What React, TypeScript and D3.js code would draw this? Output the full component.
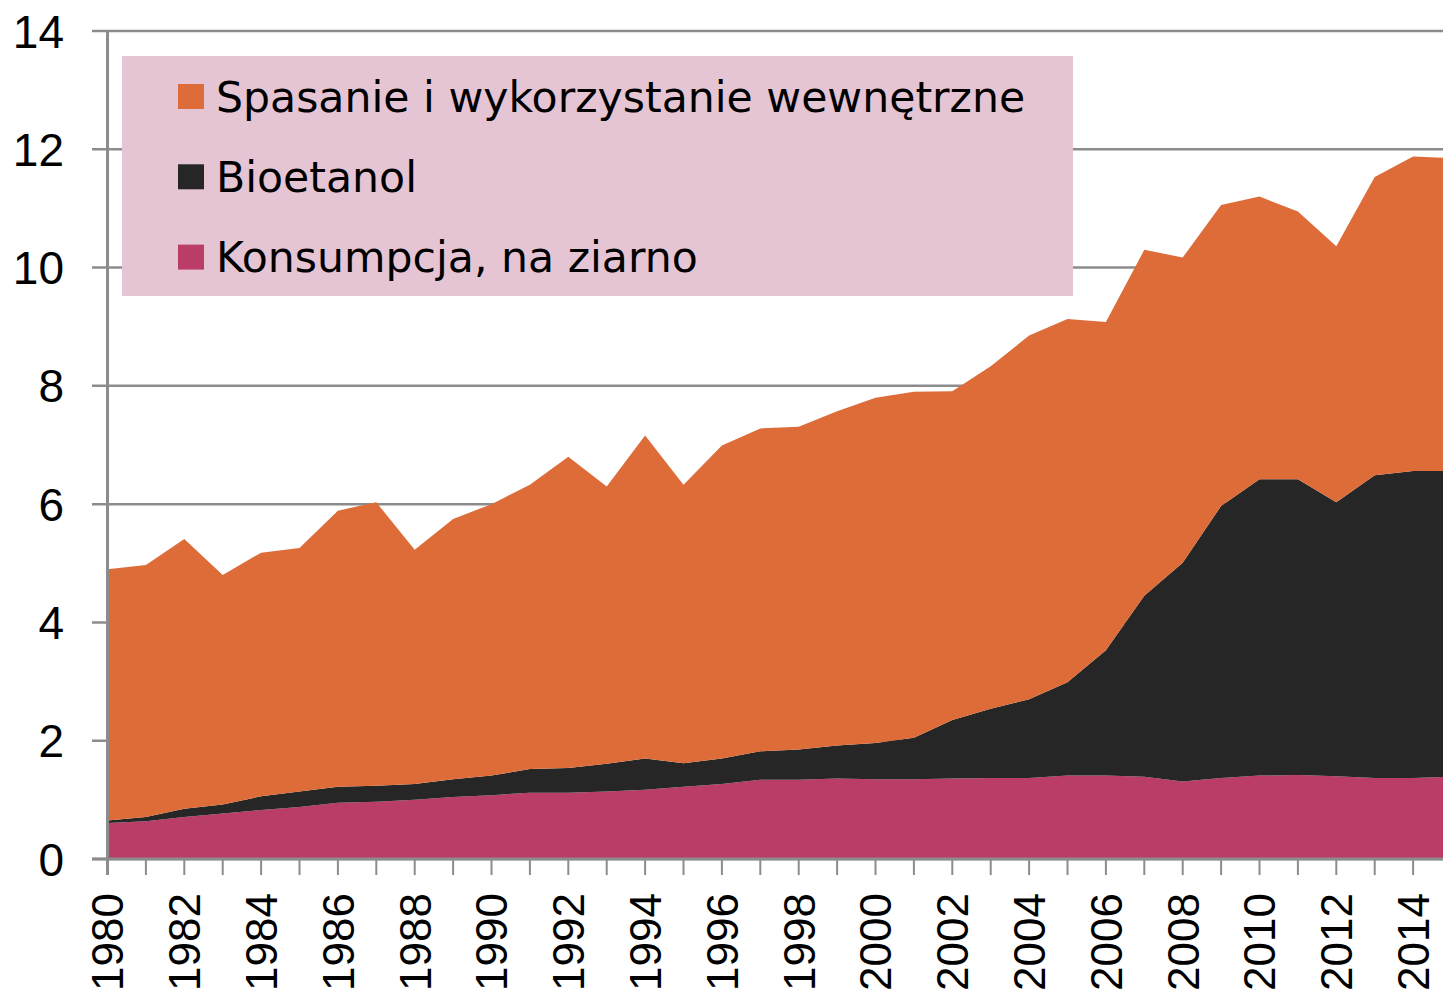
import React, { useEffect, useRef } from 'react'
import * as d3 from 'd3'

// lata 1980-2015 (ostatni rok ucięty przy prawej krawędzi)
const years = d3.range(1980, 2016)

const konsumpcja = [0.61, 0.64, 0.71, 0.77, 0.83, 0.88, 0.95, 0.97, 1.0, 1.05, 1.08, 1.12, 1.12, 1.14, 1.17, 1.22, 1.27, 1.34, 1.34, 1.36, 1.35, 1.35, 1.36, 1.37, 1.37, 1.41, 1.41, 1.39, 1.31, 1.37, 1.41, 1.42, 1.4, 1.37, 1.37, 1.39]
const bioetanol = [0.04, 0.07, 0.14, 0.15, 0.23, 0.26, 0.27, 0.27, 0.27, 0.3, 0.33, 0.4, 0.42, 0.47, 0.53, 0.4, 0.43, 0.48, 0.51, 0.56, 0.61, 0.7, 0.99, 1.17, 1.33, 1.58, 2.12, 3.06, 3.7, 4.6, 5.01, 5.0, 4.63, 5.12, 5.19, 5.17]
const spasanie = [4.25, 4.26, 4.56, 3.88, 4.12, 4.12, 4.67, 4.79, 3.96, 4.4, 4.59, 4.81, 5.26, 4.69, 5.46, 4.71, 5.29, 5.46, 5.46, 5.65, 5.84, 5.85, 5.56, 5.79, 6.15, 6.14, 5.55, 5.85, 5.16, 5.09, 4.78, 4.53, 4.33, 5.04, 5.32, 5.29]

const yTicks = [0, 2, 4, 6, 8, 10, 12, 14]

const seriesKeys = ['konsumpcja', 'bioetanol', 'spasanie']
const seriesColors = ['#b93d67', '#262626', '#dd6c38']
// legenda w odwrotnej kolejności niż stos
const legendLabels = ['Spasanie i wykorzystanie wewnętrzne', 'Bioetanol', 'Konsumpcja, na ziarno']
const legendColors = ['#dd6c38', '#262626', '#b93d67']

const W = 1443
const H = 993

export default function App() {
    const ref = useRef(null)

    useEffect(() => {
        const svg = d3.select(ref.current)
        svg.selectAll('*').remove()

        const x = d3.scaleLinear().domain([1980, 2015]).range([107.5, 107.5 + 35 * 38.4])
        const y = d3.scaleLinear().domain([0, 14]).range([859, 31])

        const table = years.map((yr, i) => ({
            year: yr,
            konsumpcja: konsumpcja[i],
            bioetanol: bioetanol[i],
            spasanie: spasanie[i],
        }))
        const stacked = d3.stack().keys(seriesKeys)(table)

        // gridlines + left ticks
        svg.append('g')
            .selectAll('line')
            .data(yTicks)
            .join('line')
            .attr('x1', 92)
            .attr('x2', W)
            .attr('y1', d => y(d))
            .attr('y2', d => y(d))
            .attr('stroke', '#8c8c8c')
            .attr('stroke-width', 2.5)

        // the areas
        const area = d3.area()
            .x(d => x(d.data.year))
            .y0(d => y(d[0]))
            .y1(d => y(d[1]))

        svg.append('g')
            .selectAll('path')
            .data(stacked)
            .join('path')
            .attr('d', area)
            .attr('fill', (d, i) => seriesColors[i])

        // axes
        svg.append('line')
            .attr('x1', x(1980)).attr('x2', x(1980))
            .attr('y1', y(14)).attr('y2', 875)
            .attr('stroke', '#8c8c8c').attr('stroke-width', 3)
        svg.append('line')
            .attr('x1', 92).attr('x2', W)
            .attr('y1', y(0)).attr('y2', y(0))
            .attr('stroke', '#8c8c8c').attr('stroke-width', 3)

        svg.append('g')
            .selectAll('line')
            .data(years)
            .join('line')
            .attr('x1', d => x(d))
            .attr('x2', d => x(d))
            .attr('y1', y(0))
            .attr('y2', 875)
            .attr('stroke', '#8c8c8c')
            .attr('stroke-width', 2)

        // y labels
        svg.append('g')
            .selectAll('text')
            .data(yTicks)
            .join('text')
            .attr('x', 64)
            .attr('y', d => y(d))
            .attr('dy', '0.36em')
            .attr('text-anchor', 'end')
            .style('font-family', '"Liberation Sans", Arial, sans-serif')
            .style('font-size', '46px')
            .attr('fill', '#000')
            .text(d => d)

        // x labels (co 2 lata, pionowo)
        svg.append('g')
            .selectAll('text')
            .data(years.filter(d => d % 2 === 0))
            .join('text')
            .attr('transform', d => `translate(${x(d)},${893}) rotate(-90)`)
            .attr('dy', '0.36em')
            .attr('text-anchor', 'end')
            .style('font-family', '"Liberation Sans", Arial, sans-serif')
            .style('font-size', '44px')
            .attr('fill', '#000')
            .text(d => d)

        // legend
        const lg = svg.append('g')
        lg.append('rect')
            .attr('x', 122).attr('y', 56)
            .attr('width', 951).attr('height', 240)
            .attr('fill', '#e5c5d3')

        const rows = lg.selectAll('g.row')
            .data(legendLabels)
            .join('g')
            .attr('class', 'row')
            .attr('transform', (d, i) => `translate(0,${96.5 + i * 80.3})`)
        rows.append('rect')
            .attr('x', 178).attr('y', -12.5)
            .attr('width', 26).attr('height', 25)
            .attr('fill', (d, i) => legendColors[i])
        rows.append('text')
            .attr('x', 216)
            .attr('dy', '0.36em')
            .style('font-family', '"DejaVu Sans", Verdana, sans-serif')
            .style('font-size', '42.6px')
            .attr('fill', '#000')
            .text(d => d)
    }, [])

    return (
        <div style={{ position: 'absolute', left: 0, top: 0 }}>
            <svg ref={ref} width={W} height={H} style={{ display: 'block', background: '#fff' }}></svg>
        </div>
    )
}
